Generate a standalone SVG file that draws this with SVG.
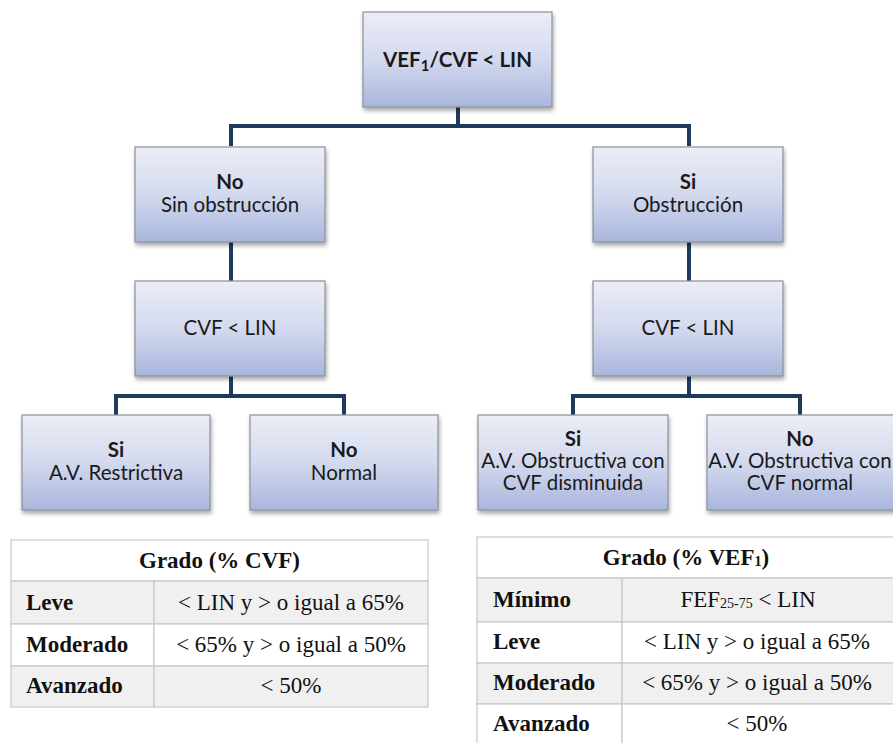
<svg xmlns="http://www.w3.org/2000/svg" width="893" height="743" viewBox="0 0 893 743">
<defs>
<linearGradient id="boxg" x1="0" y1="0" x2="0" y2="1">
<stop offset="0" stop-color="#eceef6"/>
<stop offset="0.5" stop-color="#d3d9ee"/>
<stop offset="1" stop-color="#a9b6dd"/>
</linearGradient>
<filter id="sh" x="-10%" y="-10%" width="130%" height="130%">
<feGaussianBlur in="SourceAlpha" stdDeviation="2"/>
<feOffset dx="1" dy="3" result="b"/>
<feComponentTransfer><feFuncA type="linear" slope="0.35"/></feComponentTransfer>
<feMerge><feMergeNode/><feMergeNode in="SourceGraphic"/></feMerge>
</filter>
</defs>
<style>
.box{fill:url(#boxg);stroke:#8a8f9a;stroke-width:1.2;filter:url(#sh)}
.t{font-family:Lato,"Open Sans","Liberation Sans",sans-serif;font-size:20.5px;fill:#1a1a1a;text-anchor:middle}
.b{font-weight:bold}
.con{fill:none;stroke:#1f3a5c;stroke-width:4}
.tb{fill:#ffffff;stroke:#c9c9c9;stroke-width:1.2}
.tg{fill:#f0f0f0;stroke:#c9c9c9;stroke-width:1.2}
.s{font-family:"Liberation Serif","Times New Roman",serif;font-size:23px;fill:#111}
.sc{text-anchor:middle}
</style>
<rect width="893" height="743" fill="#ffffff"/>

<g id="connectors">
<path class="con" d="M458,107 V126 M231,146 V126 H689 V146"/>
<path class="con" d="M231,242 V281 M231,376 V396 M116,415 V396 H344 V415"/>
<path class="con" d="M689,242 V281 M689,376 V396 M573,415 V396 H800 V415"/>
</g>

<g id="root">
<rect class="box" x="363" y="12" width="189" height="95"/>
<text class="t b" x="457.5" y="67" font-size="24.5">VEF<tspan font-size="15" dy="4">1</tspan><tspan dy="-4">/CVF &lt; LIN</tspan></text>
</g>

<g id="no-obstruccion">
<rect class="box" x="135" y="147" width="190" height="95"/>
<text class="t b" x="230" y="189">No</text>
<text class="t" x="230" y="212">Sin obstrucción</text>
</g>

<g id="si-obstruccion">
<rect class="box" x="593" y="147" width="190" height="95"/>
<text class="t b" x="688" y="189">Si</text>
<text class="t" x="688" y="212">Obstrucción</text>
</g>

<g id="cvf-left">
<rect class="box" x="135" y="281" width="190" height="95"/>
<text class="t" x="230" y="335">CVF &lt; LIN</text>
</g>

<g id="cvf-right">
<rect class="box" x="593" y="281" width="190" height="95"/>
<text class="t" x="688" y="335">CVF &lt; LIN</text>
</g>

<g id="restrictiva">
<rect class="box" x="22" y="415" width="188" height="95"/>
<text class="t b" x="116" y="457">Si</text>
<text class="t" x="116" y="480">A.V. Restrictiva</text>
</g>

<g id="normal">
<rect class="box" x="250" y="415" width="188" height="95"/>
<text class="t b" x="344" y="457">No</text>
<text class="t" x="344" y="480">Normal</text>
</g>

<g id="obstructiva-disminuida">
<rect class="box" x="478" y="415" width="190" height="95"/>
<text class="t b" x="573" y="446">Si</text>
<text class="t" x="573" y="468">A.V. Obstructiva con</text>
<text class="t" x="573" y="490">CVF disminuida</text>
</g>

<g id="obstructiva-normal">
<rect class="box" x="707" y="415" width="190" height="95"/>
<text class="t b" x="800" y="446">No</text>
<text class="t" x="800" y="468">A.V. Obstructiva con</text>
<text class="t" x="800" y="490">CVF normal</text>
</g>

<g id="tabla-cvf">
<rect class="tb" x="11" y="540" width="417" height="41"/>
<rect class="tg" x="11" y="581" width="143" height="43"/>
<rect class="tg" x="154" y="581" width="274" height="43"/>
<rect class="tb" x="11" y="624" width="143" height="42"/>
<rect class="tb" x="154" y="624" width="274" height="42"/>
<rect class="tg" x="11" y="666" width="143" height="41"/>
<rect class="tg" x="154" y="666" width="274" height="41"/>
<text class="s sc b" x="219.5" y="568">Grado (% CVF)</text>
<text class="s b" x="26" y="610">Leve</text>
<text class="s sc" x="291" y="610">&lt; LIN y &gt; o igual a 65%</text>
<text class="s b" x="26" y="652">Moderado</text>
<text class="s sc" x="291" y="652">&lt; 65% y &gt; o igual a 50%</text>
<text class="s b" x="26" y="693">Avanzado</text>
<text class="s sc" x="291" y="693">&lt; 50%</text>
</g>

<g id="tabla-vef1">
<rect class="tb" x="477" y="537" width="420" height="41"/>
<rect class="tg" x="477" y="578" width="145" height="44"/>
<rect class="tg" x="622" y="578" width="275" height="44"/>
<rect class="tb" x="477" y="622" width="145" height="41"/>
<rect class="tb" x="622" y="622" width="275" height="41"/>
<rect class="tg" x="477" y="663" width="145" height="41"/>
<rect class="tg" x="622" y="663" width="275" height="41"/>
<rect class="tb" x="477" y="704" width="145" height="45"/>
<rect class="tb" x="622" y="704" width="275" height="45"/>
<text class="s sc b" x="686" y="565">Grado (% VEF<tspan font-size="14" dy="1">1</tspan><tspan dy="-1">)</tspan></text>
<text class="s b" x="493" y="607">Mínimo</text>
<text class="s sc" x="748" y="607">FEF<tspan font-size="14" dy="1">25-75</tspan><tspan dy="-1"> &lt; LIN</tspan></text>
<text class="s b" x="493" y="649">Leve</text>
<text class="s sc" x="757" y="649">&lt; LIN y &gt; o igual a 65%</text>
<text class="s b" x="493" y="690">Moderado</text>
<text class="s sc" x="757" y="690">&lt; 65% y &gt; o igual a 50%</text>
<text class="s b" x="493" y="731">Avanzado</text>
<text class="s sc" x="757" y="731">&lt; 50%</text>
</g>
</svg>
